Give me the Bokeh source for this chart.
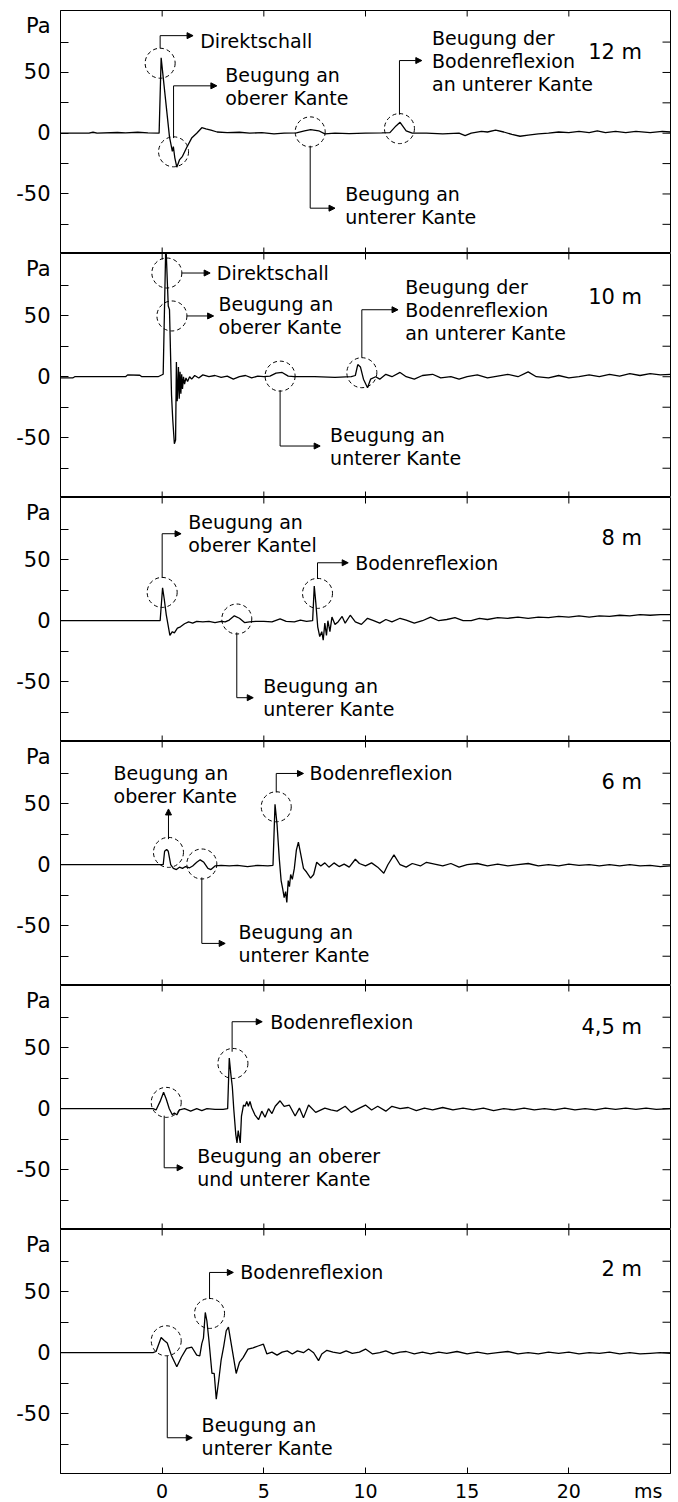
import math
from bokeh.plotting import figure
from bokeh.layouts import column
from bokeh.models import FixedTicker, Arrow, NormalHead, Range1d
from bokeh.core.properties import value
from bokeh.embed import file_html
from bokeh.resources import INLINE

FONT = "DejaVu Sans"
X_RANGE = (-5, 25)
Y_RANGE = (-99, 101)
FRAME_W = 610
FRAME_HS = [243, 244, 244, 244, 244, 244]
X_TICKS = [0, 5, 10, 15, 20]
Y_TICKS = [-50, 0, 50]
Y_TICK_MARKS = [-75, -50, -25, 0, 25, 50, 75]
Y_TICK_LABELS = {-50: "-50", 0: "0", 50: "50"}
X_UNIT = "ms"
X_UNIT_POS = 23.9
Y_UNIT = "Pa"
Y_UNIT_POS = 88

# ---------------- waveforms (time in ms, pressure in Pa) ----------------
t_12 = [-5, -3.6, -3.4, -3.2, -2.2, -1.8, -1.2, -0.7, -0.15, -0.05, 0.36, 0.5, 0.55, 0.62, 0.72, 0.85,
        1.0, 1.2, 1.45, 1.7, 1.95, 2.15, 2.4, 2.7, 3.2, 3.8, 4.3, 4.9, 5.5, 6.0, 6.6, 7.0, 7.3, 7.7,
        8.0, 8.5, 9.2, 10.0, 10.8, 11.2, 11.5, 11.7, 12.0, 12.3, 13.0, 13.8, 14.6, 14.9, 15.2, 15.7,
        16.0, 16.4, 16.8, 17.2, 17.6, 18.0, 18.5, 19.0, 19.5, 20.0, 20.5, 21.0, 21.4, 21.8, 22.3,
        22.8, 23.3, 24.0, 24.6, 25]
p_12 = [0, 0, 0.8, 0, 0.6, 0.3, 0.8, 0.3, 0, 62, -3, -15, -11, -20, -28, -22,
        -19, -12, -4, 0, 4.5, 3.5, 2.5, 1, 0.5, 0.8, 0, 0.5, -0.5, 0, 0.2, 2, 3, 2,
        -0.5, 0, -0.3, 0, 0.2, 0.5, 6, 9, 2, 0, 0, -0.5, 0, -2, 0, 1.5,
        1, 2.5, 1, -1, -2.5, -1.5, -0.5, 0, 1, 0.5, 1.5, 0.5, 2, 0.5, 1.5,
        0.5, 1.5, 0.5, 1.5, 1]

t_10 = [-5, -4.4, -4.3, -1.8, -1.7, -1.1, -1.0, -0.2, 0.05, 0.18, 0.3, 0.36, 0.46, 0.52, 0.6, 0.66,
        0.7, 0.74, 0.78, 0.8, 0.84, 0.88, 0.92, 0.96, 1.0, 1.05, 1.1, 1.17, 1.25, 1.35, 1.45, 1.6,
        1.8, 2.0, 2.3, 2.6, 2.9, 3.2, 3.5, 3.8, 4.1, 4.4, 4.7, 5.0, 5.3, 5.6, 5.9, 6.2, 6.5, 7.5,
        8.5, 9.3, 9.5, 9.62, 9.75, 9.9, 10.1, 10.25, 10.5, 10.7, 11.0, 11.3, 11.7, 12.0, 12.4, 12.8,
        13.3, 13.7, 14.2, 14.6, 15.0, 15.5, 16.0, 16.5, 17.0, 17.5, 18.0, 18.4, 19.0, 19.5, 20.0,
        20.5, 21.0, 21.5, 22.0, 22.5, 23.0, 23.5, 24.0, 24.5, 25]
p_10 = [-1, -1, 0, 0, 1.5, 1.2, 0, 0, 2, 110, 58, 55, -15, -35, -55, -52,
        12, -20, -5, 8, -18, 4, -14, 2, -10, 0, -6, -1, -4, 0, -2, 1,
        -1, 1.5, 0, 1, -0.5, 0.5, -2, 0, 1, -1, 0.5, 0, 0.5, 3, 3.5, 0.5, 0, 0,
        -0.5, 0, 1, 10, 8, -2, -9, -2, 0, -2, 2, 0, 3.5, 0, -2, 1,
        2, -1, 0, -2, 0, 1.5, -1, 0.5, 2, 0, 4, 0, -1, 1, -1,
        0, 1.5, 0, 2, 0.5, 2.5, 1, 2.5, 1.5, 2]

t_8 = [-5, -0.1, 0.02, 0.1, 0.2, 0.38, 0.5, 0.6, 0.75, 0.9, 1.1, 1.3, 1.5, 1.7, 2.0, 2.3, 2.6,
       2.9, 3.1, 3.3, 3.55, 3.8, 4.05, 4.3, 4.6, 5.0, 5.4, 5.8, 6.1, 6.5, 6.8, 7.1, 7.4, 7.48,
       7.56, 7.65, 7.75, 7.85, 7.92, 8.0, 8.08, 8.15, 8.25, 8.35, 8.5, 8.65, 8.85, 9.0, 9.25, 9.5,
       9.8, 10.1, 10.4, 10.7, 11.0, 11.3, 11.7, 12.0, 12.4, 12.8, 13.2, 13.6, 14.0, 14.4, 14.8,
       15.2, 15.6, 16.0, 16.5, 17.0, 17.5, 18.0, 18.5, 19.0, 19.5, 20.0, 20.5, 21.0, 21.5, 22.0,
       22.5, 23.0, 23.5, 24.0, 24.5, 25]
p_8 = [0, 0, 27, 18, 5, -12, -9, -10, -6, -5, -2.5, -1, -2, -0.5, -1, -0.5, -1.5,
       -0.5, -1, 0.5, 4, 2, -1.5, -1, -0.5, -0.5, -1, 1.5, -0.5, -1, 0.5, -0.5, 0, 28.5,
       14, -5, -13, -9, -16, -2, -12, 0, -9, 3, -3, -1, 3.5, -2, 4.5, -1,
       -3, 2, 0, -2, 1, -1, 2, 0.5, -2, 0, 3, 0, 1, 2.5, 0,
       0, 2, 1, 2.5, 2, 3, 2, 3, 2.5, 3.5, 3, 4, 3, 4, 3.5,
       4.5, 4, 5, 4.5, 5, 5]

t_6 = [-5, 0.05, 0.12, 0.22, 0.3, 0.42, 0.55, 0.7, 0.85, 1.0, 1.15, 1.35, 1.5, 1.7, 1.87, 2.05,
       2.25, 2.4, 2.6, 2.9, 3.3, 3.7, 4.2, 4.7, 5.2, 5.45, 5.55, 5.65, 5.76, 5.85, 5.93, 6.0,
       6.07, 6.13, 6.2, 6.26, 6.32, 6.4, 6.5, 6.6, 6.7, 6.8, 6.95, 7.1, 7.3, 7.45, 7.6, 7.8,
       8.0, 8.2, 8.45, 8.7, 8.95, 9.2, 9.5, 9.7, 10.0, 10.3, 10.6, 10.9, 11.1, 11.4, 11.7, 12.0,
       12.3, 12.7, 13.0, 13.4, 13.8, 14.2, 14.6, 15.0, 15.5, 16.0, 16.5, 17.0, 17.5, 18.0, 18.5,
       19.0, 19.5, 20.0, 20.5, 21.0, 21.5, 22.0, 22.5, 23.0, 23.5, 24.0, 24.5, 25]
p_6 = [0, 0, 11, 12.5, 11, 0, -3, -4, -2, -3, -1.5, -2.5, -1, 2, 4, 2,
       -3, -4, -1, -0.5, -1, -0.5, -1.5, -0.5, -1, -0.5, 49.5, 33, 5, -13, -20, -27,
       -22, -31, -13, -18, -8, -12, -3, 12, 18.5, 10, -3, -6, -11, -8, 2, -1,
       1.5, -2, 1.5, -1.5, 0.5, -2, 4.5, 1, -1, 1.5, -2, -7, 0, 8, 0, -2,
       1, -1, 2, 0.5, -1, 1, -2, 0, 1, -1, 0.5, -1, 0, 1, -1,
       0, -1, 0.5, -0.5, 0, -1, 0, -1, 0, -1, -0.5, -1.5, -1]

t_45 = [-5, -0.45, -0.3, -0.1, 0.07, 0.2, 0.35, 0.5, 0.6, 0.72, 0.85, 1.1, 1.4, 1.7, 1.95, 2.2,
        2.6, 3.0, 3.22, 3.3, 3.38, 3.45, 3.52, 3.62, 3.68, 3.74, 3.84, 3.9, 4.0, 4.08, 4.16, 4.24,
        4.32, 4.4, 4.56, 4.74, 4.9, 5.06, 5.23, 5.4, 5.56, 5.8, 6.0, 6.25, 6.54, 6.75, 6.95, 7.2,
        7.55, 8.0, 8.3, 8.6, 9.0, 9.3, 9.7, 10.0, 10.3, 10.6, 11.0, 11.3, 11.7, 12.1, 12.5, 12.9,
        13.3, 13.8, 14.3, 14.8, 15.3, 15.8, 16.3, 16.8, 17.3, 17.8, 18.3, 18.8, 19.3, 19.8, 20.3,
        20.8, 21.3, 21.8, 22.3, 22.8, 23.3, 23.8, 24.3, 25]
p_45 = [0, 0, -1, 6, 13.5, 8, 0, -5, -3.5, -5, -1, 0, -2, 0, -1.5, 0,
        -0.5, -0.5, 0, 41.5, 28, 18, 0, -21, -28, -18, -28, -6, 3, 2, 6, 2,
        6, 1, -5, -9, -2, -7, 0, -4, 2, 6.5, 2, 3, -6, 0.5, -7.5, 3,
        -3, 0.5, -1, -2, 2, -3, 0.5, 3, -1, 2, -2, 2, 0, 1, -1.5, 0.5,
        -1, 1, -1, 0.5, -1, 0.5, -1.5, 0, -1, 0.5, -1, 0, -1, 0.5, -1,
        0, -1, 0.5, -0.5, 0.5, -0.5, 0.5, -0.5, 0]

t_2 = [-5, -0.45, -0.3, -0.05, 0.1, 0.25, 0.45, 0.72, 0.95, 1.2, 1.46, 1.7, 1.85, 1.95, 2.03, 2.12,
       2.2, 2.3, 2.45, 2.56, 2.66, 2.78, 2.9, 3.02, 3.15, 3.26, 3.37, 3.5, 3.64, 3.8, 3.98, 4.22,
       4.47, 4.72, 4.98, 5.15, 5.4, 5.65, 5.9, 6.15, 6.4, 6.65, 6.95, 7.2, 7.45, 7.69, 7.85, 8.1,
       8.4, 8.75, 9.05, 9.35, 9.7, 10.0, 10.35, 10.7, 11.0, 11.35, 11.7, 12.0, 12.4, 12.8, 13.2,
       13.6, 14.0, 14.5, 15.0, 15.5, 16.0, 16.5, 17.0, 17.5, 18.0, 18.5, 19.0, 19.5, 20.0, 20.5,
       21.0, 21.5, 22.0, 22.5, 23.0, 23.5, 24.0, 24.5, 25]
p_2 = [0, 0, 1, 12.5, 10, 8, -2, -11.5, -3.5, 3.5, 4.5, -2, -2.5, 7.5, 12, 33,
       26, 10, -17, -17, -38, -23, -6, 4.5, 18, 21, 10, -3, -17, -8, -4, 3,
       4, 5.5, 7, -1, 0.5, -2, 0.5, 1.5, -1, 1.5, 0, 3, 0, -6.5, -1, 2,
       0.5, -0.5, 1.5, -0.5, 0.5, 3, -1, 0, 1.5, -1, 0.5, 1, -1, 0.5, -1,
       0.5, -0.5, 1, -1, 0.5, -1, 0, 1, -1, 0, -1, 0.5, -0.5, 0.5, -1,
       0, -0.5, 0.5, -1, 0, -1, -0.5, 0, -0.5]

# ---------------- annotations (data coordinates) ----------------
labels_dist = ["12 m", "10 m", "8 m", "6 m", "4,5 m", "2 m"]
dist_pos = [(23.6, 67), (23.6, 65), (23.6, 68), (23.6, 68), (23.6, 67), (23.6, 69)]

circles = [
    [(-0.1, 57.6), (0.56, -15.3), (7.28, 1.1), (11.67, 3.8)],
    [(0.23, 85), (0.48, 49.8), (5.8, 0.5), (9.82, 3.3)],
    [(0.0, 23.2), (3.67, 1.4), (7.64, 22.4)],
    [(0.31, 10.1), (1.95, 0.6), (5.61, 47.5)],
    [(0.2, 5.2), (3.48, 37.1)],
    [(0.2, 9.8), (2.33, 32.2)],
]

leaders = [
    [[(-0.1, 69.9), (-0.1, 80.3), (1.52, 80.3)],
     [(0.56, -4), (0.56, 39), (2.69, 39)],
     [(7.28, -10.3), (7.28, -61.7), (8.5, -61.7)],
     [(11.67, 15.3), (11.67, 59.8), (12.77, 59.8)]],
    [[(0.97, 85), (2.36, 85)],
     [(1.21, 49.8), (2.53, 49.8)],
     [(5.8, -11), (5.8, -56.8), (7.77, -56.8)],
     [(9.82, 15.6), (9.82, 54.9), (11.6, 54.9)]],
    [[(0.0, 35), (0.0, 71.3), (0.93, 71.3)],
     [(3.67, -9.6), (3.67, -63.1), (4.48, -63.1)],
     [(7.64, 34.2), (7.64, 47.5), (9.15, 47.5)]],
    [[(0.31, 21), (0.31, 45.7)],
     [(1.95, -10.4), (1.95, -64.5), (3.1, -64.5)],
     [(5.61, 59.3), (5.61, 74.8), (6.95, 74.8)]],
    [[(0.1, -5.7), (0.1, -48.4), (1.03, -48.4)],
     [(3.44, 46.7), (3.44, 71.3), (4.92, 71.3)]],
    [[(0.25, -2.5), (0.25, -69.7), (1.48, -69.7)],
     [(2.33, 44), (2.33, 65.8), (3.5, 65.8)]],
]

texts = [
    [(1.87, 76, ["Direktschall"]),
     (3.1, 38.5, ["Beugung an", "oberer Kante"]),
     (9.0, -59.8, ["Beugung an", "unterer Kante"]),
     (13.27, 59.5, ["Beugung der", "Bodenreflexion", "an unterer Kante"])],
    [(2.69, 85, ["Direktschall"]),
     (2.77, 49.8, ["Beugung an", "oberer Kante"]),
     (8.26, -56.8, ["Beugung an", "unterer Kante"]),
     (11.95, 54.9, ["Beugung der", "Bodenreflexion", "an unterer Kante"])],
    [(1.28, 71.3, ["Beugung an", "oberer Kantel"]),
     (4.97, -63.1, ["Beugung an", "unterer Kante"]),
     (9.49, 47.5, ["Bodenreflexion"])],
    [(-2.39, 66, ["Beugung an", "oberer Kante"]),
     (3.75, -64.5, ["Beugung an", "unterer Kante"]),
     (7.25, 74.8, ["Bodenreflexion"])],
    [(1.72, -48.4, ["Beugung an oberer", "und unterer Kante"]),
     (5.31, 71.3, ["Bodenreflexion"])],
    [(1.94, -68.5, ["Beugung an", "unterer Kante"]),
     (3.84, 65.8, ["Bodenreflexion"])],
]

series = [(t_12, p_12), (t_10, p_10), (t_8, p_8), (t_6, p_6), (t_45, p_45), (t_2, p_2)]

LINE_PX = 23
CIRCLE_PX = 30
YTICK_PX = 8
XTICK_PX = 6

figs = []
n = len(series)
for i, (tt, pp) in enumerate(series):
    first = (i == 0)
    last = (i == n - 1)
    fh = FRAME_HS[i]
    p = figure(frame_width=FRAME_W, frame_height=fh,
               x_range=Range1d(*X_RANGE), y_range=Range1d(*Y_RANGE),
               x_axis_location="below" if last else None,
               y_axis_location="left",
               output_backend="svg", toolbar_location=None,
               min_border_left=60, min_border_right=4,
               min_border_top=10 if first else 0, min_border_bottom=0,
               background_fill_color="white", border_fill_color="white",
               outline_line_color="black", outline_line_width=1)
    p.xgrid.visible = False
    p.ygrid.visible = False
    ppy = fh / (Y_RANGE[1] - Y_RANGE[0])

    # left axis: tick marks as minor ticks, labels (incl. unit) as zero-length major ticks
    ya = p.yaxis[0]
    ya.ticker = FixedTicker(ticks=Y_TICKS + [Y_UNIT_POS], minor_ticks=Y_TICK_MARKS)
    overrides = dict(Y_TICK_LABELS)
    overrides[Y_UNIT_POS] = Y_UNIT
    ya.major_label_overrides = overrides
    ya.major_tick_in = 0
    ya.major_tick_out = 0
    ya.minor_tick_in = YTICK_PX
    ya.minor_tick_out = 0
    ya.major_label_standoff = 10
    ya.major_label_text_font = FONT
    ya.major_label_text_font_size = "21px"
    ya.major_label_text_color = "black"
    ya.axis_line_color = "black"
    ya.minor_tick_line_color = "black"

    if last:
        xa = p.xaxis[0]
        xa.ticker = FixedTicker(ticks=X_TICKS + [X_UNIT_POS], minor_ticks=X_TICKS)
        xa.major_label_overrides = {X_UNIT_POS: X_UNIT}
        xa.major_tick_in = 0
        xa.major_tick_out = 0
        xa.minor_tick_in = XTICK_PX
        xa.minor_tick_out = 0
        xa.major_label_standoff = 6
        xa.major_label_text_font = FONT
        xa.major_label_text_font_size = "19px"
        xa.major_label_text_color = "black"
        xa.axis_line_color = "black"
        xa.minor_tick_line_color = "black"

    # inward tick marks on top, right (and bottom of inner panels); clipped to the frame
    p.scatter(X_TICKS, [Y_RANGE[1]] * len(X_TICKS), marker="dash", angle=math.pi / 2,
              size=2 * XTICK_PX, line_color="black", line_width=1)
    if not last:
        p.scatter(X_TICKS, [Y_RANGE[0]] * len(X_TICKS), marker="dash", angle=math.pi / 2,
                  size=2 * XTICK_PX, line_color="black", line_width=1)
    p.scatter([X_RANGE[1]] * len(Y_TICK_MARKS), Y_TICK_MARKS, marker="dash",
              size=2 * YTICK_PX, line_color="black", line_width=1)

    # waveform
    p.line(tt, pp, line_color="black", line_width=1.3)

    # dashed circles
    cx = [c[0] for c in circles[i]]
    cy = [c[1] for c in circles[i]]
    p.scatter(cx, cy, marker="circle", size=CIRCLE_PX, fill_color=None,
              line_color="black", line_width=1, line_dash="4 3")

    # leader lines with arrows
    for pts in leaders[i]:
        if len(pts) > 2:
            p.line([q[0] for q in pts[:-1]], [q[1] for q in pts[:-1]],
                   line_color="black", line_width=1)
        a, b = pts[-2], pts[-1]
        p.add_layout(Arrow(end=NormalHead(size=6, line_color="black", fill_color="black", line_width=1),
                           x_start=a[0], y_start=a[1], x_end=b[0], y_end=b[1],
                           line_color="black", line_width=1))

    # annotation texts
    xs, ys, ts = [], [], []
    for (tx, ty, lines) in texts[i]:
        k = len(lines)
        for j, s in enumerate(lines):
            xs.append(tx)
            ys.append(ty - (j - (k - 1) / 2) * LINE_PX / ppy)
            ts.append(s)
    p.text(xs, ys, text=ts, text_font=value(FONT), text_font_size=value("19px"),
           text_align="left", text_baseline="middle", text_color="black")

    # distance label
    dx, dy = dist_pos[i]
    p.text([dx], [dy], text=[labels_dist[i]], text_font=value(FONT), text_font_size=value("21px"),
           text_align="right", text_baseline="middle", text_color="black")
    figs.append(p)

layout = column(*figs, spacing=0)
open("out.html", "w").write(file_html(layout, INLINE))
